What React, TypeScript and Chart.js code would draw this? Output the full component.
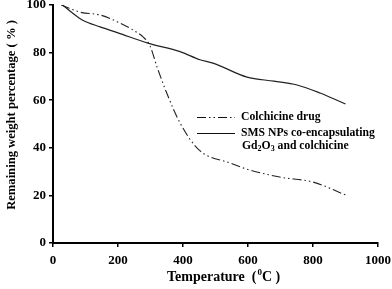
import React, { useEffect, useRef } from "react";
import { Chart, registerables } from "chart.js";

Chart.register(...registerables);

const drugTemps = [25, 83, 145, 197, 246, 277, 298, 320, 350, 391, 450, 545, 597, 698, 800, 900];
const drugValues = [100, 97, 95.8, 93, 89.5, 86.6, 83, 74, 63, 50.4, 39, 33.6, 31, 27.7, 25.6, 20.2];
const npTemps = [30, 60, 90, 145, 200, 292, 391, 452, 492, 597, 680, 751, 822, 900];
const npValues = [100, 96.6, 93.7, 90.8, 88.3, 84, 80.4, 77, 75.6, 69.7, 68, 66.4, 63, 58.4];
const xTicks = [0, 200, 400, 600, 800, 1000];
const yTicks = [0, 20, 40, 60, 80, 100];
const seriesNames = ["Colchicine drug", "SMS NPs co-encapsulating", "Gd", "2", "O", "3", " and colchicine"];

const SERIF = "'Liberation Serif', 'Times New Roman', serif";

const customText = {
  id: "customText",
  afterDraw(chart: any) {
    const ctx = chart.ctx as CanvasRenderingContext2D;
    ctx.save();
    ctx.fillStyle = "#000";
    // y title
    ctx.save();
    ctx.translate(15, 115);
    ctx.rotate(-Math.PI / 2);
    ctx.font = `bold 12.6px ${SERIF}`;
    ctx.textAlign = "center";
    ctx.textBaseline = "alphabetic";
    ctx.fillText("Remaining weight percentage ( % )", 0, 0);
    ctx.restore();
    // x title with superscript
    ctx.font = `bold 14px ${SERIF}`;
    const p1 = "Temperature  (";
    const sup = "0";
    const p2 = "C )";
    ctx.textBaseline = "alphabetic";
    ctx.textAlign = "left";
    const w1 = ctx.measureText(p1).width;
    ctx.font = `bold 9px ${SERIF}`;
    const w2 = ctx.measureText(sup).width;
    let x = 167;
    const base = 281;
    ctx.font = `bold 14px ${SERIF}`;
    ctx.fillText(p1, x, base);
    x += w1 + 1;
    ctx.font = `bold 9px ${SERIF}`;
    ctx.fillText(sup, x, base - 6);
    x += w2;
    ctx.font = `bold 14px ${SERIF}`;
    ctx.fillText(p2, x, base);

    // legend
    const lx0 = 197, lx1 = 235, tx = 241;
    ctx.strokeStyle = "#111";
    ctx.lineWidth = 1.2;
    ctx.setLineDash([9, 3, 1.5, 3, 1.5, 3]);
    ctx.beginPath();
    ctx.moveTo(lx0, 117.5);
    ctx.lineTo(lx1, 117.5);
    ctx.stroke();
    ctx.setLineDash([]);
    ctx.beginPath();
    ctx.moveTo(lx0, 133.5);
    ctx.lineTo(lx1, 133.5);
    ctx.stroke();
    ctx.font = `bold 11.7px ${SERIF}`;
    ctx.textBaseline = "middle";
    ctx.fillText(seriesNames[0], tx, 117);
    ctx.fillText(seriesNames[1], tx, 133);
    let gx = 242;
    const gy = 146;
    ctx.fillText(seriesNames[2], gx, gy);
    gx += ctx.measureText(seriesNames[2]).width;
    ctx.font = `bold 8px ${SERIF}`;
    ctx.fillText(seriesNames[3], gx, gy + 3);
    gx += ctx.measureText(seriesNames[3]).width;
    ctx.font = `bold 11.7px ${SERIF}`;
    ctx.fillText(seriesNames[4], gx, gy);
    gx += ctx.measureText(seriesNames[4]).width;
    ctx.font = `bold 8px ${SERIF}`;
    ctx.fillText(seriesNames[5], gx, gy + 3);
    gx += ctx.measureText(seriesNames[5]).width;
    ctx.font = `bold 11.7px ${SERIF}`;
    ctx.fillText(seriesNames[6], gx, gy);
    ctx.restore();
  },
};

export default function App() {
  const ref = useRef<HTMLCanvasElement>(null);
  useEffect(() => {
    if (!ref.current) return;
    const chart = new Chart(ref.current, {
      type: "line",
      data: {
        datasets: [
          {
            label: seriesNames[0],
            data: drugTemps.map((t, i) => ({ x: t, y: drugValues[i] })),
            borderColor: "#222",
            borderWidth: 1.1,
            borderDash: [9, 3, 1.5, 3, 1.5, 3],
            pointRadius: 0,
            cubicInterpolationMode: "monotone",
            fill: false,
          },
          {
            label: seriesNames[1],
            data: npTemps.map((t, i) => ({ x: t, y: npValues[i] })),
            borderColor: "#222",
            borderWidth: 1.2,
            pointRadius: 0,
            cubicInterpolationMode: "monotone",
            fill: false,
          },
        ],
      },
      options: {
        animation: false,
        responsive: false,
        devicePixelRatio: 1,
        layout: { padding: { top: 5, right: 14, left: 0, bottom: 0 } },
        plugins: { legend: { display: false }, tooltip: { enabled: false } },
        scales: {
          x: {
            type: "linear",
            min: 0,
            max: 1000,
            afterBuildTicks: (s: any) => {
              s.ticks = xTicks.map((v) => ({ value: v }));
            },
            afterFit: (s: any) => {
              s.height = 46;
              s.paddingLeft = 0;
              s.paddingRight = 0;
            },
            grid: { drawOnChartArea: false, drawTicks: true, tickLength: 4, color: "#000", lineWidth: 1.5 },
            border: { color: "#000", width: 2 },
            ticks: {
              color: "#000",
              font: { family: SERIF, size: 13, weight: "bold" },
              padding: 6,
              maxRotation: 0,
              callback: (v: any) => String(v),
            },
          },
          y: {
            min: 0,
            max: 100,
            afterBuildTicks: (s: any) => {
              s.ticks = yTicks.map((v) => ({ value: v }));
            },
            afterFit: (s: any) => {
              s.width = 53;
              s.paddingTop = 0;
              s.paddingBottom = 0;
            },
            grid: { drawOnChartArea: false, drawTicks: true, tickLength: 4, color: "#000", lineWidth: 1.5 },
            border: { color: "#000", width: 2 },
            ticks: {
              color: "#000",
              font: { family: SERIF, size: 13, weight: "bold" },
              padding: 3,
              callback: (v: any) => String(v),
            },
          },
        },
      },
      plugins: [customText],
    });
    return () => chart.destroy();
  }, []);
  return (
    <div style={{ position: "absolute", left: 0, top: 0, width: 392, height: 289, background: "#fff" }}>
      <canvas ref={ref} width={392} height={289} style={{ width: 392, height: 289 }} />
    </div>
  );
}
